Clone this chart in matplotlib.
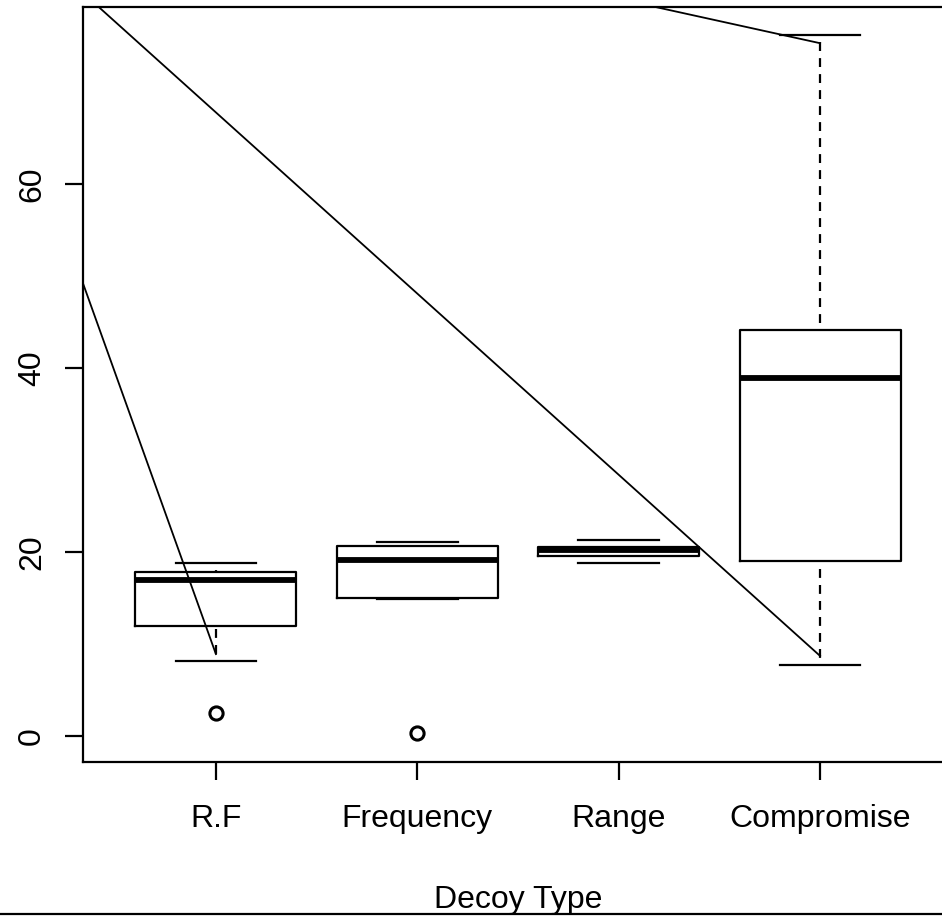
import numpy as np
import matplotlib
matplotlib.use("Agg")
import matplotlib.pyplot as plt
from matplotlib.lines import Line2D

plt.rcParams['font.family'] = ['Liberation Sans', 'DejaVu Sans']

# box statistics
labels = ["R.F", "Frequency", "Range", "Compromise"]
whislo = [8.1, 14.85, 18.75, 7.75]
q1 = [11.95, 14.95, 19.55, 19.05]
med = [16.95, 19.15, 20.25, 38.95]
q3 = [17.85, 20.7, 20.55, 44.1]
whishi = [18.75, 21.1, 21.3, 76.15]
fliers = [[2.45], [0.3], [], []]

# the stray straight lines drawn over the plot
line_a_x = [0.34, 1.0]
line_a_y = [49.2, 8.9]
line_b_x = [0.42, 4.0]
line_b_y = [79.2, 8.7]
line_c_x = [3.19, 4.0]
line_c_y = [79.2, 75.3]

fig = plt.figure(figsize=(9.42, 9.16), dpi=100)
ax = fig.add_axes([0.0881, 0.1681, 0.9236, 0.8243])

stats = []
for i in range(len(labels)):
    stats.append(dict(label=labels[i], whislo=whislo[i], q1=q1[i], med=med[i],
                      q3=q3[i], whishi=whishi[i], fliers=fliers[i]))

lw = 1.6
res = ax.bxp(stats, positions=np.arange(1, 5), widths=0.8,
             boxprops=dict(color='black', linewidth=lw),
             medianprops=dict(color='black', linewidth=4.2, solid_capstyle='butt'),
             whiskerprops=dict(color='black', linewidth=lw, linestyle=(4.0, (4.0, 3.2))),
             capprops=dict(color='black', linewidth=lw),
             capwidths=0.4,
             flierprops=dict(marker='o', markerfacecolor='none', markeredgecolor='black',
                             markersize=9.5, markeredgewidth=2.2))

# R draws whiskers from the whisker end toward the box
for w in res['whiskers']:
    w.set_ydata(w.get_ydata()[::-1])

for lx, ly in [(line_a_x, line_a_y), (line_b_x, line_b_y), (line_c_x, line_c_y)]:
    ax.plot(lx, ly, color='black', linewidth=1.3)

ax.set_xlim(0.34, 4.66)
ax.set_ylim(-2.83, 79.24)
ax.set_yticks([0, 20, 40, 60])
ax.set_xticks(np.arange(1, 5))
ax.set_xticklabels(labels)

for s in ax.spines.values():
    s.set_linewidth(lw)

ax.tick_params(axis='both', length=13, width=lw, labelsize=23)
ax.tick_params(axis='x', pad=17)
ax.tick_params(axis='y', pad=13, labelrotation=90)
for t in ax.get_yticklabels():
    t.set_verticalalignment('center')

fig.text(0.55, 0.0087, "Decoy Type", ha='center', va='baseline', fontsize=23)
fig.add_artist(Line2D([0, 1], [0.0027, 0.0027], color='black', linewidth=lw,
                      transform=fig.transFigure))

fig.savefig("out.png", dpi=100)
